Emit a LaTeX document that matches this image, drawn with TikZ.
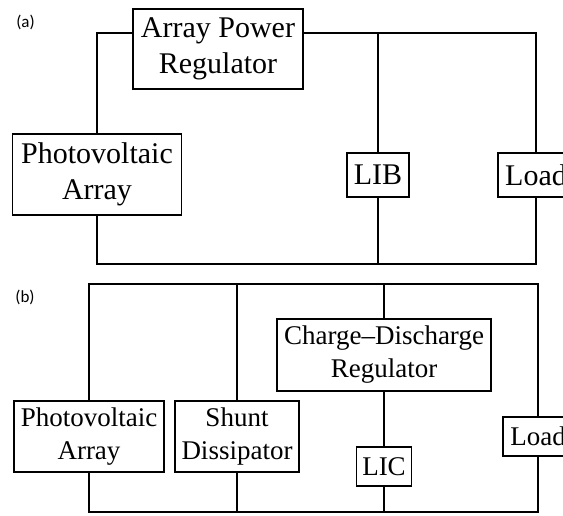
\documentclass[tikz,border=0pt]{standalone}
\usepackage{fontspec}
\setmainfont{Liberation Serif}
\newfontfamily\panelfont{Carlito}
\tikzset{
	blk/.style={draw, line width=1.3pt, inner sep=0pt, align=center},
	wire/.style={line width=1.6pt},
	bigtxt/.style={font=\fontsize{30}{36}\selectfont},
	smalltxt/.style={font=\fontsize{27}{33}\selectfont},
	panel/.style={font=\panelfont\fontsize{17}{19}\selectfont},
}
\begin{document}
\begin{tikzpicture}[x=1pt, y=-1pt]
				\path[use as bounding box, clip] (0,0) rectangle (563,515);

				% Panel (a)
				\node[panel] (lbla) at (25.5,22) {(a)};
				\coordinate (tla) at (97,33);
				\coordinate (tra) at (536,33);
				\coordinate (bla) at (97,264);
				\coordinate (bra) at (536,264);
				\node[blk, bigtxt, minimum width=170pt, minimum height=80pt] (apr) at (218,49) {Array Power\\Regulator};
				\node[blk, bigtxt, minimum width=169pt, minimum height=81pt] (pva) at (97,174.5) {Photovoltaic\\Array};
				\node[blk, bigtxt, minimum width=62pt, minimum height=44pt] (lib) at (378,175) {LIB};
				\node[blk, bigtxt, minimum width=76pt, minimum height=44pt] (loada) at (536,175) {Load};

				\draw[wire] (tla -| apr.west) -- (tla) -- (pva.north);
				\draw[wire] (tla -| apr.east) -- (tra) -- (loada.north);
				\draw[wire] (pva.south) -- (bla) -- (bra) -- (loada.south);
				\draw[wire] (lib.north) -- (lib.north |- tla);
				\draw[wire] (lib.south) -- (lib.south |- bla);

				% Panel (b)
				\node[panel] (lblb) at (25,297) {(b)};
				\coordinate (tlb) at (89,284);
				\coordinate (trb) at (538,284);
				\coordinate (blb) at (89,512);
				\coordinate (brb) at (538,512);
				\node[blk, smalltxt, minimum width=150pt, minimum height=71pt] (pvb) at (89,436.5) {Photovoltaic\\Array};
				\node[blk, smalltxt, minimum width=124pt, minimum height=71pt] (shunt) at (237,436.5) {Shunt\\Dissipator};
				\node[blk, smalltxt, minimum width=214pt, minimum height=72pt] (cdr) at (384,355) {Charge--Discharge\\Regulator};
				\node[blk, smalltxt, minimum width=55pt, minimum height=39pt] (lic) at (384,466.5) {LIC};
				\node[blk, smalltxt, minimum width=70pt, minimum height=39pt] (loadb) at (538,436.5) {Load};

				\draw[wire] (pvb.north) -- (tlb) -- (trb) -- (loadb.north);
				\draw[wire] (pvb.south) -- (blb) -- (brb) -- (loadb.south);
				\draw[wire] (shunt.north) -- (shunt.north |- tlb);
				\draw[wire] (shunt.south) -- (shunt.south |- blb);
				\draw[wire] (cdr.north) -- (cdr.north |- tlb);
				\draw[wire] (cdr.south) -- (lic.north);
				\draw[wire] (lic.south) -- (lic.south |- blb);

\end{tikzpicture}
\end{document}
